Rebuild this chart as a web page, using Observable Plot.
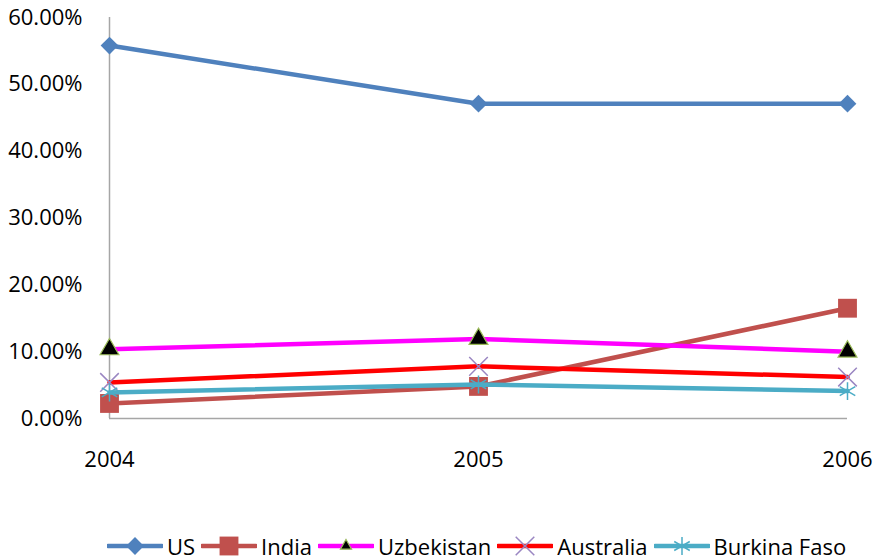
<!DOCTYPE html>
<html><head><meta charset="utf-8">
<script src="https://cdn.jsdelivr.net/npm/d3@7"></script>
<script src="https://cdn.jsdelivr.net/npm/@observablehq/plot@0.6"></script>
<style>
  html,body{margin:0;padding:0;background:#fff;}
  body{width:875px;height:560px;overflow:hidden;position:relative;font-family:"Open Sans",sans-serif;}
  #legend{position:absolute;left:107px;top:532px;height:28px;line-height:28px;display:flex;align-items:center;font-size:22px;color:#000;white-space:nowrap;}
  #legend .item{display:flex;align-items:center;margin-right:6px;height:28px;}
  #legend svg{display:block;margin-right:4px;}
</style>
</head><body>
<div id="chart"></div>
<div id="legend"></div>
<script>
const years = [2004, 2005, 2006];
const seriesNames = ["US", "India", "Uzbekistan", "Australia", "Burkina Faso"];
const usValues = [0.558, 0.471, 0.471];
const indiaValues = [0.0225, 0.048, 0.165];
const uzbekistanValues = [0.1035, 0.119, 0.100];
const australiaValues = [0.054, 0.078, 0.062];
const burkinaFasoValues = [0.039, 0.051, 0.041];
const yTicks = [0, 0.1, 0.2, 0.3, 0.4, 0.5, 0.6];

const valuesBySeries = [usValues, indiaValues, uzbekistanValues, australiaValues, burkinaFasoValues];
const styles = [
  {line: "#4F81BD", symbol: "diamond2", r: 8, fill: "#4F81BD", stroke: "none", sw: 0},
  {line: "#C0504D", symbol: "square2", r: 12, fill: "#C0504D", stroke: "none", sw: 0},
  {line: "#FF00FF", symbol: "triangle2", r: 9, fill: "#000000", stroke: "#9BBB59", sw: 1.2},
  {line: "#FF0000", symbol: "times", r: 8.5, fill: "none", stroke: "#9A86C2", sw: 1.5},
  {line: "#4BACC6", symbol: "asterisk", r: 8.5, fill: "none", stroke: "#4BACC6", sw: 1.5}
];

const rows = seriesNames.flatMap((name, i) =>
  years.map((year, j) => ({series: name, year, value: valuesBySeries[i][j]})));

const marks = [
  Plot.ruleX([2004], {y1: 0, y2: 0.6, stroke: "#A6A6A6", strokeWidth: 1.5}),
  Plot.ruleY([0], {stroke: "#A6A6A6", strokeWidth: 1.5}),
  Plot.axisY({ticks: yTicks, tickFormat: d3.format(".2%"), tickSize: 0, tickPadding: 27, fontSize: 22}),
  Plot.axisX({tickSize: 0, tickPadding: 33, tickFormat: d => String(d), fontSize: 22})
];
seriesNames.forEach((name, i) => {
  const st = styles[i];
  const data = rows.filter(d => d.series === name);
  marks.push(Plot.line(data, {x: "year", y: "value", stroke: st.line, strokeWidth: 4.5}));
  marks.push(Plot.dot(data, {x: "year", y: "value", symbol: () => st.symbol, r: st.r,
    fill: st.fill, stroke: st.stroke, strokeWidth: st.sw}));
});

const chart = Plot.plot({
  width: 875,
  height: 500,
  marginLeft: 109,
  marginRight: 28,
  marginTop: 17,
  marginBottom: 82,
  style: {fontFamily: "'Open Sans', sans-serif", fontSize: "22px", color: "#000", background: "#fff"},
  x: {type: "point", domain: years, padding: 0, label: null},
  y: {domain: [0, 0.6], label: null},
  symbol: {type: "identity"},
  marks
});
document.getElementById("chart").appendChild(chart);

// Legend
const symMap = {diamond2: d3.symbolDiamond2, square2: d3.symbolSquare2, triangle2: d3.symbolTriangle2, times: d3.symbolTimes, asterisk: d3.symbolAsterisk};
const legend = d3.select("#legend");
seriesNames.forEach((name, i) => {
  const st = styles[i];
  const item = legend.append("div").attr("class", "item");
  const svg = item.append("svg").attr("width", 56).attr("height", 28);
  svg.append("line").attr("x1", 1).attr("x2", 55).attr("y1", 14).attr("y2", 14)
    .attr("stroke", st.line).attr("stroke-width", 4.5).attr("stroke-linecap", "round");
  const size = Math.PI * st.r * st.r * (i === 2 ? 0.35 : 1);
  svg.append("path").attr("transform", "translate(28,14)")
    .attr("d", d3.symbol(symMap[st.symbol], size)())
    .attr("fill", st.fill).attr("stroke", st.stroke).attr("stroke-width", st.sw);
  item.append("span").text(name);
});
</script>
</body></html>
